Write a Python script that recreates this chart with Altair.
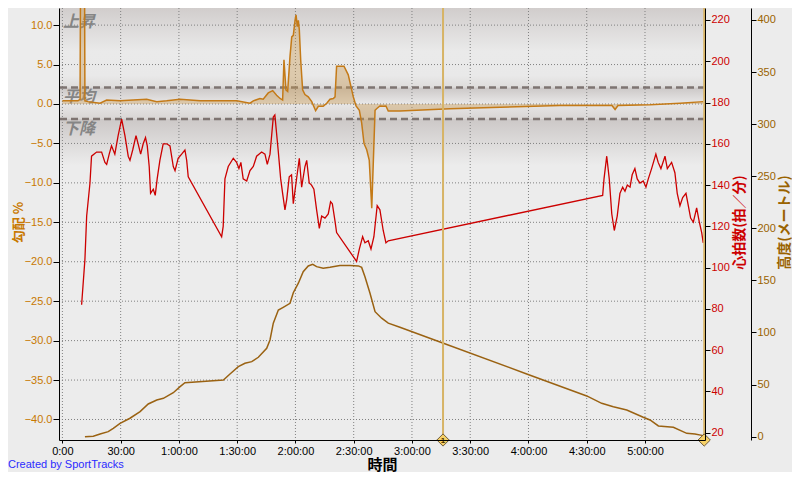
import altair as alt
import pandas as pd

# ---------------- data ----------------
# heart rate (minutes, bpm)
hr_t = [9.9, 11.6, 12.5, 14.2, 15.0, 17.6, 20.2, 21.9, 22.8, 24.1, 25.3, 27.0, 28.7, 30.5, 32.2,
        33.9, 34.8, 36.2, 37.9, 39.0, 40.3, 41.6, 42.8, 43.7, 44.7, 45.4, 46.8, 47.8, 48.8, 50.2,
        51.9, 53.7, 55.4, 57.1, 58.0, 59.6, 61.4, 63.1, 64.0, 64.8, 82.0, 82.8, 83.7, 85.4, 88.0,
        89.7, 90.9, 91.9, 93.1, 94.9, 96.6, 98.3, 100.0, 102.6, 104.3, 105.5, 106.9, 108.6, 109.4,
        111.1, 112.4, 113.4, 114.6, 115.5, 116.8, 118.0, 118.9, 120.3, 122.0, 123.2, 124.9, 125.8,
        127.1, 128.3, 129.5, 130.9, 132.3, 133.5, 135.2, 136.9, 138.1, 139.0, 140.3, 141.2, 151.5,
        152.9, 154.6, 155.8, 157.5, 158.9, 160.4, 162.1, 163.5, 165.2, 166.6, 167.8, 278.2, 278.9,
        280.3, 281.6, 282.9, 284.2, 285.7, 287.1, 288.5, 289.7, 290.9, 292.3, 293.4, 294.8, 296.0,
        297.4, 299.1, 300.5, 301.7, 303.4, 305.6, 306.8, 308.2, 310.3, 311.5, 313.7, 315.4, 316.6,
        318.0, 319.4, 321.1, 322.3, 323.5, 324.9, 326.6, 328.0, 329.2, 330.0]
hr_v = [82, 104, 125, 141, 154, 156, 156, 151, 150, 155, 159, 155, 164, 172, 164,
        154, 152, 157, 164, 160, 155, 160, 163, 159, 149, 136, 138, 135, 143, 152,
        160, 160, 159, 149, 147, 153, 155, 157, 152, 144, 115, 120, 143, 149, 153,
        151, 148, 151, 143, 142, 147, 149, 154, 156, 155, 150, 155, 173, 174,
        157, 143, 136, 128, 133, 144, 145, 131, 141, 153, 139, 149, 152,
        141, 140, 138, 128, 119, 125, 124, 126, 132, 131, 123, 117, 103,
        109, 115, 112, 113, 109, 115, 130, 128, 118, 112, 113, 135, 143,
        154, 143, 126, 118, 125, 136, 139, 137, 140, 139, 145, 148, 143,
        141, 142, 139, 143, 148, 155, 151, 148, 154, 148, 151, 146, 136,
        130, 134, 136, 130, 124, 122, 129, 122, 117, 112]

# elevation (minutes, metres)
elev_t = [11.6, 15.9, 19.4, 23.6, 26.2, 29.7, 34.8, 40.0, 44.2, 48.6, 52.0, 57.1, 60.6, 63.1, 82.9,
          86.3, 90.6, 94.0, 97.5, 100.9, 105.2, 106.9, 108.6, 111.2, 113.7, 117.2, 118.9, 121.5,
          124.0, 126.6, 128.9, 130.9, 134.3, 137.8, 142.9, 148.1, 152.4, 154.1, 155.8, 158.4, 161.0,
          164.4, 167.8, 173.8, 195.5, 239.1, 270.0, 277.7, 283.7, 290.6, 299.1, 302.6, 306.9, 314.6,
          321.5, 325.7, 330.0]
elev_v = [0, 0.5, 2.6, 4.8, 8, 12.8, 17.7, 24, 31.4, 35.2, 36.8, 42.2, 48, 51.8, 54.4,
          60.2, 67.2, 70.5, 72, 76.2, 84.9, 92.8, 108.9, 121.6, 124.2, 128, 138.2, 147.3,
          158.4, 163.9, 165.5, 163.2, 161.7, 162.6, 164.2, 164.2, 163.9, 162.5, 153.6, 137.7, 120,
          113.7, 109, 105, 90.2, 60.2, 39.1, 32, 28.8, 25.6, 18.6, 16, 10.3, 9,
          3.2, 2.6, 1]

# gradient (minutes, %)
grad_t = [0, 8.0, 9.1, 9.7, 11.1, 11.6, 13.2, 19.4, 22.8, 29.7, 36.4, 43.4, 48.6, 53.7, 60.6,
          70.9, 81.2, 89.8, 96.6, 98.3, 101.7, 103.4, 106.0, 108.3, 110.3, 112.1, 113.4, 114.1,
          115.1, 116.0, 117.2, 118.1, 118.9, 119.8, 120.3, 121.0, 121.5, 122.0, 122.7, 123.7,
          124.9, 126.6, 128.4, 130.4, 131.8, 134.3, 136.1, 137.8, 139.5, 140.4, 141.2, 145.0,
          147.2, 149.8, 151.2, 152.9, 154.1, 155.3, 156.7, 158.0, 159.3, 161.0, 161.8, 163.5,
          165.2, 166.6, 167.8, 173.8, 199.6, 225.4, 256.2, 283.0, 284.6, 286.1, 302.6, 318.1, 330.0]
grad_v = [0.4, 0.4, 0.6, 40, 40, 0.4, 0.3, 0.1, 0.5, 0.4, 0.5, 0.6, 0.3, 0.4, 0.6,
          0.4, 0.4, 0.4, 0.1, 0.4, 0.7, 0.6, 1.4, 1.7, 1.1, 0.7, 0.5, 5.6,
          1.8, 1.6, 6.0, 8.5, 8.7, 10.6, 11.3, 9.8, 10.6, 9.4, 5.6, 1.8,
          1.2, 0.9, 0.3, -0.85, -0.3, -0.3, 0.1, 0.6, 0.7, 0.9, 4.8, 4.8,
          3.7, 0.9, -0.25, -0.8, -2.4, -5.0, -5.8, -7.1, -13.2, -0.8, -0.6, -0.25,
          -0.3, -0.25, -0.9, -0.9, -0.6, -0.4, -0.2, -0.2, -0.7, -0.2, -0.1, 0.1, 0.3]

x_ticks = [0, 30, 60, 90, 120, 150, 180, 210, 240, 270, 300]
grad_ticks = [-40, -35, -30, -25, -20, -15, -10, -5, 0, 5, 10]
hr_ticks = [20, 40, 60, 80, 100, 120, 140, 160, 180, 200, 220]
elev_ticks = [0, 50, 100, 150, 200, 250, 300, 350, 400]

top_band_name = ["上昇"]
band_names = ["平均", "下降"]
band_limits = [12.17, 2.1, -1.9]
marker_times = [196.0, 330.5]
marker_labels = ["1", ""]

# ---------------- scales / axes ----------------
X_DOMAIN = [-1.75, 330.9]
GRAD_DOMAIN = [-42.6, 12.17]
HR_DOMAIN = [16.5, 225.8]
ELEV_DOMAIN = [-3.2, 411.5]

W, H = 646, 432
LABEL_FONT = "Liberation Sans"
CJK = "Noto Sans CJK JP"

label_expr = ("datum.value == 0 ? '0:00' : (datum.value < 60 ? datum.value + ':00' : "
              "floor(datum.value / 60) + ':' + (datum.value % 60 < 10 ? '0' : '') + "
              "(datum.value % 60) + ':00')")

x_axis = alt.Axis(values=x_ticks, labelExpr=label_expr, grid=False, domainColor="black",
                  tickColor="black", tickSize=3, labelPadding=2, labelColor="black",
                  labelFont=LABEL_FONT, labelFontSize=11, labelFlush=False,
                  title="時間", titleFont=CJK, titleFontSize=15, titleFontWeight="bold",
                  titleColor="black", titleY=24, titleBaseline="middle", zindex=1)


def xenc(field="t"):
    return alt.X(f"{field}:Q", scale=alt.Scale(domain=X_DOMAIN, nice=False, zero=False),
                 axis=x_axis)


grad_scale = alt.Scale(domain=GRAD_DOMAIN, nice=False, zero=False)


def gy(field, axis=None):
    return alt.Y(f"{field}:Q", scale=grad_scale, axis=axis)


grad_axis = alt.Axis(orient="left", values=grad_ticks, format=".1f", grid=False,
                     domainColor="black", tickColor="black", tickSize=6, labelPadding=1,
                     labelColor="#C87800", labelFont=LABEL_FONT, labelFontSize=11,
                     title="勾配 %", titleColor="#C87800", titleFont=CJK, titleFontSize=13,
                     titleFontWeight="bold", titleAngle=270, titleX=-41, titleY=214,
                     titleAlign="center", titleBaseline="middle", zindex=1)

hr_axis = alt.Axis(orient="right", values=hr_ticks, grid=False, domainColor="black",
                   tickColor="black", tickSize=5, labelPadding=1, labelColor="#CC0000",
                   labelFont=LABEL_FONT, labelFontSize=11,
                   title="心拍数(拍／分)", titleColor="#CC0000", titleFont=CJK, titleFontSize=14,
                   titleFontWeight="bold", titleAngle=270, titleX=34, titleY=214,
                   titleAlign="center", titleBaseline="middle", zindex=1)

elev_axis = alt.Axis(orient="right", offset=46, values=elev_ticks, grid=False,
                     domainColor="black", tickColor="black", tickSize=5, labelPadding=1,
                     labelColor="#9A6300", labelFont=LABEL_FONT, labelFontSize=11,
                     title="高度(メートル)", titleColor="#9A6300", titleFont=CJK, titleFontSize=14,
                     titleFontWeight="bold", titleAngle=270, titleX=33, titleY=214,
                     titleAlign="center", titleBaseline="middle", zindex=1)

# ---------------- data frames ----------------
hr_df = pd.DataFrame({"t": hr_t, "hr": hr_v})
elev_df = pd.DataFrame({"t": elev_t, "elev": elev_v})
grad_df = pd.DataFrame({"t": grad_t, "g": grad_v})
xgrid_df = pd.DataFrame({"v": x_ticks})
ygrid_df = pd.DataFrame({"v": grad_ticks})
top_df = pd.DataFrame({"label": top_band_name, "v": band_limits[:1]})
band_df = pd.DataFrame({"label": band_names, "v": band_limits[1:]})
dash_df = pd.DataFrame({"v": band_limits[1:]})
marker_df = pd.DataFrame({"t": marker_times, "label": marker_labels})
one = pd.DataFrame({"a": [0]})


def grad_fill(stops):
    return alt.Gradient(gradient="linear", x1=0, x2=0, y1=0, y2=1,
                        stops=[alt.GradientStop(offset=o, color=c) for o, c in stops])


def band(top, bottom, stops):
    df = pd.DataFrame({"y1": [top], "y2": [bottom]})
    return alt.Chart(df).mark_rect(fill=grad_fill(stops), strokeWidth=0).encode(
        x=alt.value(0), x2=alt.value(W), y=gy("y1"), y2=alt.Y2("y2:Q"))


band_a = band(band_limits[0], band_limits[1],
              [(0, "#D1CDCC"), (0.55, "#EAEAEA"), (0.85, "#E9E9E9"), (1, "#DEDCDB")])
band_b = band(band_limits[1], band_limits[2],
              [(0, "#CBC7C6"), (0.5, "#E8E7E7"), (1, "#D8D5D4")])
band_c = band(band_limits[2], -7.8, [(0, "#CCC8C7"), (1, "#ECECEC")])

vgrid = alt.Chart(xgrid_df).mark_rule(color="#808080", strokeDash=[1, 2], strokeWidth=1).encode(
    x=xenc("v"))
hgrid = alt.Chart(ygrid_df).mark_rule(color="#808080", strokeDash=[1, 2], strokeWidth=1).encode(
    y=gy("v"))

dashes = alt.Chart(dash_df).mark_rule(color="#7E7471", strokeDash=[7, 4], strokeWidth=2.5).encode(
    y=gy("v"))

text_style = dict(align="left", baseline="top", font=CJK, fontSize=16, fontWeight="bold",
                  fontStyle="italic", color="#858585", dx=4)
top_text = alt.Chart(top_df).mark_text(dy=6, **text_style).encode(
    x=alt.value(0), y=gy("v"), text="label:N")
band_text = alt.Chart(band_df).mark_text(dy=2, **text_style).encode(
    x=alt.value(0), y=gy("v"), text="label:N")

grad_area = alt.Chart(grad_df).mark_area(clip=True, color="#C8954A", opacity=0.38).encode(
    x=xenc(), y=gy("g"), y2=alt.datum(0))
grad_line = alt.Chart(grad_df).mark_line(clip=True, color="#C47A17", strokeWidth=1.5).encode(
    x=xenc(), y=gy("g", grad_axis))

elev_line = alt.Chart(elev_df).mark_line(color="#9A6212", strokeWidth=1.5).encode(
    x=xenc(),
    y=alt.Y("elev:Q", scale=alt.Scale(domain=ELEV_DOMAIN, nice=False, zero=False), axis=elev_axis))

hr_line = alt.Chart(hr_df).mark_line(color="#CC0000", strokeWidth=1.3).encode(
    x=xenc(),
    y=alt.Y("hr:Q", scale=alt.Scale(domain=HR_DOMAIN, nice=False, zero=False), axis=hr_axis))

marker_rule = alt.Chart(marker_df).mark_rule(color="#D7B466", strokeWidth=2).encode(x=xenc())
marker_pt = alt.Chart(marker_df).mark_point(
    shape="diamond", size=150, filled=True, fill="#F6D167", stroke="#6E5A36",
    strokeWidth=1, opacity=1).encode(x=xenc(), y=alt.value(H))
marker_txt = alt.Chart(marker_df).mark_text(
    fontSize=8, fontWeight="bold", color="#4A3300", font=LABEL_FONT, baseline="middle").encode(
    x=xenc(), y=alt.value(H + 0.5), text="label:N")

credit = alt.Chart(one).mark_text(
    align="left", baseline="middle", font=LABEL_FONT, fontSize=11, color="#2B2BFF").encode(
    x=alt.value(-51), y=alt.value(457), text=alt.value("Created by SportTracks"))

chart = alt.layer(
    band_a, band_b, band_c, vgrid, hgrid, dashes, top_text, band_text,
    grad_area, grad_line, elev_line, hr_line,
    marker_rule, marker_pt, marker_txt, credit
).resolve_scale(y="independent").properties(
    width=W, height=H,
    autosize=alt.AutoSizeParams(type="none"),
    padding={"left": 51, "top": 0, "right": 87, "bottom": 32},
    background="#ECECEC",
).configure_view(stroke=None)

chart.save("out.html", embed_options={"renderer": "svg", "actions": False})
